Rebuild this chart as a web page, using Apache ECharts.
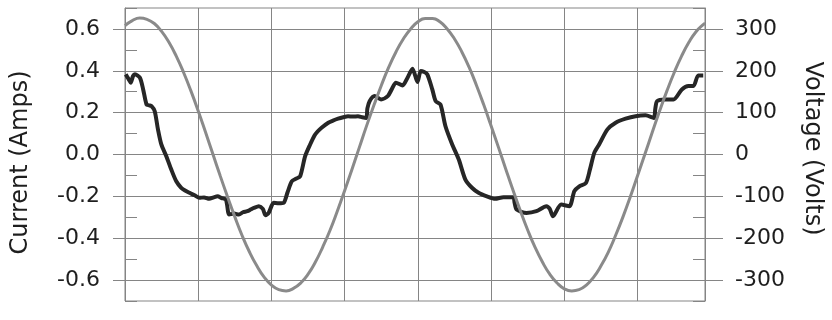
<!DOCTYPE html>
<html><head><meta charset="utf-8">
<script src="https://cdn.jsdelivr.net/npm/echarts@6/dist/echarts.min.js"></script>
<style>html,body{margin:0;padding:0;background:#fff}#c{width:832px;height:320px}</style>
</head><body><div id="c"></div>
<script>
// Time in ms (x axis, no labels shown; grid every 5 ms)
const xTicks = [5, 10, 15, 20, 25, 30, 35];
const currentTicks = [-0.6, -0.4, -0.2, 0, 0.2, 0.4, 0.6];
const voltageTicks = [-300, -200, -100, 0, 100, 200, 300];

const voltageTime = [0,0.5,1,1.5,2,2.5,3,3.5,4,4.5,5,5.5,6,6.5,7,7.5,8,8.5,9,9.5,10,10.5,11,11.5,12,12.5,13,13.5,14,14.5,15,15.5,16,16.5,17,17.5,18,18.5,19,19.5,20,20.5,21,21.5,22,22.5,23,23.5,24,24.5,25,25.5,26,26.5,27,27.5,28,28.5,29,29.5,30,30.5,31,31.5,32,32.5,33,33.5,34,34.5,35,35.5,36,36.5,37,37.5,38,38.5,39,39.5,39.6];
const voltageVolts = [308,320,326,323,313,294,268,235,196,152,104,53,1,-51,-101,-149,-194,-233,-266,-293,-312,-323,-326,-320,-307,-286,-257,-221,-181,-135,-86,-35,17,69,118,165,208,245,276,300,317,325,325,317,300,276,245,208,165,118,68,17,-35,-86,-135,-181,-222,-257,-286,-307,-321,-326,-323,-312,-293,-266,-233,-193,-149,-101,-50,1,53,104,152,196,235,268,294,311,313];

const currentTime = [0.05,0.25,0.39,0.55,0.68,1.02,1.24,1.47,1.65,1.81,2.03,2.25,2.48,2.82,3.16,3.5,3.84,4.1,4.4,4.75,5.08,5.4,5.75,6.05,6.32,6.6,6.88,6.97,7.11,7.45,7.78,8.05,8.35,8.6,8.8,9.14,9.41,9.59,9.81,10.15,10.5,10.83,11.1,11.39,11.7,11.96,12.3,12.64,12.93,13.15,13.42,13.88,14.2,14.55,14.9,15.23,15.55,15.91,16.2,16.47,16.55,16.7,17.04,17.48,17.94,18.2,18.5,18.95,19.29,19.63,19.97,20.19,20.4,20.64,20.98,21.21,21.54,21.88,22.34,22.79,23.24,23.69,24.14,24.71,25.27,25.84,26.51,26.6,26.74,27.41,28.09,28.77,29.0,29.22,29.78,30.34,30.68,31.02,31.47,31.75,32.04,32.37,32.94,33.5,34.18,34.86,35.54,36.1,36.21,36.33,36.89,37.45,38.02,38.47,38.81,39.14,39.48];
const currentAmps = [0.383,0.36,0.343,0.375,0.383,0.367,0.311,0.239,0.235,0.231,0.207,0.12,0.048,-0.008,-0.072,-0.128,-0.159,-0.172,-0.183,-0.195,-0.207,-0.205,-0.212,-0.205,-0.2,-0.208,-0.215,-0.24,-0.287,-0.282,-0.287,-0.276,-0.271,-0.262,-0.255,-0.247,-0.26,-0.29,-0.279,-0.231,-0.233,-0.231,-0.18,-0.128,-0.115,-0.104,-0.008,0.048,0.09,0.11,0.128,0.152,0.162,0.171,0.178,0.183,0.181,0.183,0.178,0.175,0.22,0.255,0.279,0.263,0.279,0.31,0.343,0.33,0.367,0.41,0.346,0.399,0.395,0.383,0.311,0.255,0.239,0.135,0.048,-0.024,-0.12,-0.159,-0.183,-0.2,-0.212,-0.204,-0.204,-0.23,-0.263,-0.279,-0.271,-0.247,-0.26,-0.295,-0.239,-0.247,-0.175,-0.152,-0.136,-0.07,0.008,0.048,0.12,0.152,0.171,0.183,0.187,0.175,0.22,0.255,0.263,0.263,0.311,0.327,0.327,0.378,0.378];

const FONT = 'DejaVu Sans';
const GRID = '#858585';
const TXT = '#1e1e1e';

const chart = echarts.init(document.getElementById('c'), null, {renderer: 'canvas'});
chart.setOption({
  animation: false,
  backgroundColor: '#fff',
  grid: {left: 125, right: 122, top: 8, bottom: 19, show: true, borderColor: GRID, borderWidth: 1},
  xAxis: {
    type: 'value', min: 0, max: 39.6, interval: 5,
    axisLine: {show: true, lineStyle: {color: GRID}},
    axisTick: {show: true, customValues: xTicks, length: 20, lineStyle: {color: GRID}},
    axisLabel: {show: false},
    splitLine: {show: true, lineStyle: {color: GRID, width: 1}}
  },
  yAxis: [
    {
      type: 'value', position: 'left', min: -0.7, max: 0.7, interval: 0.1,
      name: 'Current (Amps)', nameLocation: 'middle', nameGap: 92,
      nameTextStyle: {fontFamily: FONT, fontSize: 24, color: TXT, padding: [0, 16, 0, 0]},
      axisLine: {show: true, lineStyle: {color: GRID}},
      axisTick: {show: true, customValues: currentTicks, length: 12, lineStyle: {color: GRID}},
      axisLabel: {customValues: currentTicks, margin: 25, fontFamily: FONT, fontSize: 22, color: TXT,
        formatter: v => v.toFixed(1)},
      splitLine: {show: true, lineStyle: {color: GRID, width: 1}}
    },
    {
      type: 'value', position: 'left', offset: 0, min: -0.7, max: 0.7, interval: 0.1,
      axisLine: {show: false},
      axisTick: {show: true, inside: true, length: 12, lineStyle: {color: GRID}},
      axisLabel: {show: false},
      splitLine: {show: false}
    },
    {
      type: 'value', position: 'right', min: -350, max: 350, interval: 50,
      name: 'Voltage (Volts)', nameLocation: 'middle', nameGap: 95, nameRotate: -90,
      nameTextStyle: {fontFamily: FONT, fontSize: 24, color: TXT, padding: [0, 12, 0, 0]},
      axisLine: {show: true, lineStyle: {color: GRID}},
      axisTick: {show: true, customValues: voltageTicks, length: 18, lineStyle: {color: GRID}},
      axisLabel: {customValues: voltageTicks, margin: 30, fontFamily: FONT, fontSize: 22, color: TXT},
      splitLine: {show: false}
    },
    {
      type: 'value', position: 'right', offset: 0, min: -350, max: 350, interval: 50,
      axisLine: {show: false},
      axisTick: {show: true, inside: true, length: 12, lineStyle: {color: GRID}},
      axisLabel: {show: false},
      splitLine: {show: false}
    }
  ],
  series: [
    {
      name: 'Current', type: 'line', yAxisIndex: 0, showSymbol: false, smooth: 0.25,
      lineStyle: {color: '#262626', width: 4},
      data: currentTime.map((t, i) => [t, currentAmps[i]]), z: 3
    },
    {
      name: 'Voltage', type: 'line', yAxisIndex: 2, showSymbol: false, smooth: true,
      lineStyle: {color: '#8a8a8a', width: 3},
      data: voltageTime.map((t, i) => [t, voltageVolts[i]]), z: 4
    }
  ]
});
</script></body></html>
